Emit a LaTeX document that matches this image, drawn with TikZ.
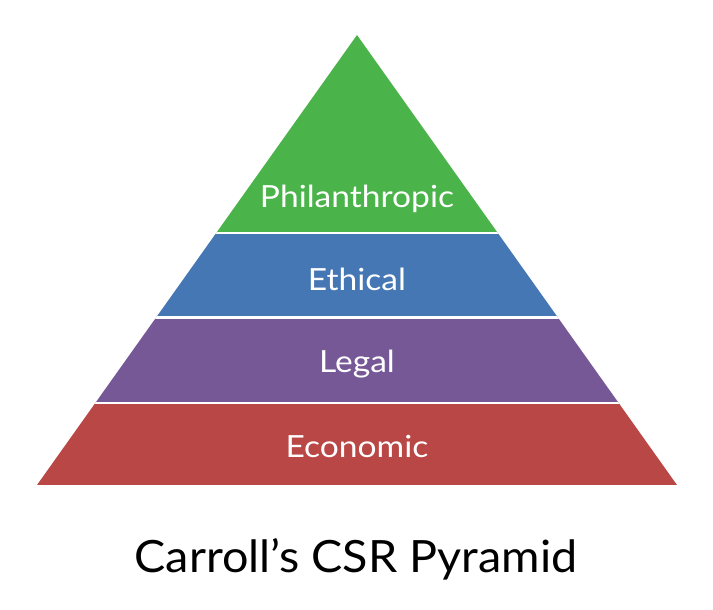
\documentclass[tikz,border=0pt]{standalone}
\usepackage{fontspec}
\setmainfont{Lato}
\newfontfamily\layerfont[FakeStretch=1.1]{Lato}
\newfontfamily\titlefont[FakeStretch=1.05]{Lato}
\definecolor{csrgreen}{HTML}{4AB34A}
\definecolor{csrblue}{HTML}{4577B4}
\definecolor{csrpurple}{HTML}{765897}
\definecolor{csrred}{HTML}{B94746}
\tikzset{
    layer/.style={text=white, anchor=base, inner sep=0pt, font=\layerfont\fontsize{30.5}{36}\selectfont},
    caption/.style={text=black, anchor=base, inner sep=0pt, font=\titlefont\fontsize{44.5}{52}\selectfont}
}
\begin{document}
\begin{tikzpicture}[x=1pt, y=-1pt]
    \useasboundingbox (0,0) rectangle (713,610);
    \coordinate (T) at (357,35);
    \coordinate (L) at (37,485);
    \coordinate (R) at (677,485);

    \begin{scope}
        \clip (T) -- (L) -- (R) -- cycle;
        \foreach \top/\bot/\col in {35/233/csrgreen, 233/317.5/csrblue, 317.5/403/csrpurple, 403/485/csrred}
            \fill[\col] (0,\top) rectangle (713,\bot);
        \foreach \y in {233,317.5,403}
            \draw[white, line width=2.6pt] (0,\y) -- (713,\y);
    \end{scope}

    \foreach \name/\y/\txt in {phil/207/Philanthropic, eth/290/Ethical, leg/372.5/Legal, eco/457.5/Economic}
        \node[layer] (\name) at (357,\y) {\txt};

    \node[caption] (title) at (356,572) {Carroll’s CSR Pyramid};
\end{tikzpicture}
\end{document}
